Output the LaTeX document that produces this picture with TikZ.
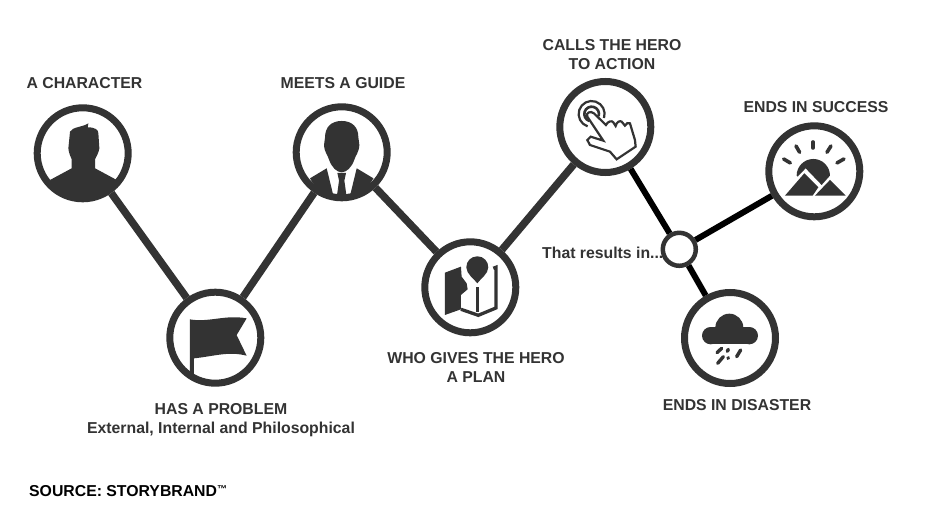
\documentclass[tikz,border=0pt]{standalone}
\usepackage{fontspec}
\setmainfont{Liberation Sans}
\usetikzlibrary{positioning}
\definecolor{inkColor}{RGB}{51,51,51}
\tikzset{stage/.style={circle, draw=inkColor, fill=white, line width=7pt, minimum size=91pt, inner sep=0pt}}
\tikzset{junction/.style={stage, line width=4.5pt, minimum size=33pt}}
\tikzset{caption/.style={align=center, inner sep=0pt, text=inkColor, font=\bfseries\fontsize{15.8}{19}\selectfont}}
\tikzset{link/.style={draw=inkColor, line width=7.5pt}}
\tikzset{outcome/.style={draw=black, line width=6pt}}
\tikzset{icon/.style={x=.3333pt, y=-.3333pt, fill=inkColor, draw=inkColor}}

\begin{document}
\begin{tikzpicture}[x=1pt, y=-1pt]
\path [fill=white, use as bounding box] (0,0) rectangle (927,511);

% Nodes
\node (Character) [stage] at (82.7,153.3) {};
\node (Problem) [stage] at (215.3,337.7) {};
\node (Guide) [stage] at (341.7,152.3) {};
\node (Plan) [stage] at (470.3,287.3) {};
\node (Action) [stage] at (605.3,127) {};
\node (Results) [junction] at (679.3,249.3) {};
\node (Success) [stage] at (814.3,171.3) {};
\node (Disaster) [stage] at (730,338) {};

\node (CharacterText) [caption, above=15pt of Character, xshift=1.8pt] {A CHARACTER};
\node (ProblemText) [caption, below=17pt of Problem, xshift=5.7pt] {HAS A PROBLEM\\External, Internal and Philosophical};
\node (GuideText) [caption, above=14pt of Guide, xshift=1.3pt] {MEETS A GUIDE};
\node (PlanText) [caption, below=16pt of Plan, xshift=5.7pt] {WHO GIVES THE HERO\\A PLAN};
\node (ActionText) [caption, above=8pt of Action, xshift=6.7pt] {CALLS THE HERO\\TO ACTION};
\node (ResultsText) [caption, left=-3pt of Results, yshift=-4pt] {That results in...};
\node (SuccessText) [caption, above=9pt of Success, xshift=1.7pt] {ENDS IN SUCCESS};
\node (DisasterText) [caption, below=12pt of Disaster, xshift=7pt] {ENDS IN DISASTER};
\node (SourceText) [caption, text=black, anchor=west] at (29,490.6) {SOURCE: STORYBRAND\raisebox{4pt}{\fontsize{10}{10}\selectfont ™}};

% Connectors
\draw [link] (Character) -- (Problem);
\draw [link] (Problem) -- (Guide);
\draw [link] (Guide) -- (Plan);
\draw [link] (Plan) -- (Action);
\draw [outcome] (Action) -- (Results);
\draw [outcome] (Results) -- (Success);
\draw [outcome] (Results) -- (Disaster);

% Icons
\begin{scope}[shift={(Character)}, icon]
\fill (-38,-65) .. controls (-30,-80) and (0,-78) .. (17,-90) -- (15,-78) .. controls (38,-78) and (47,-70) .. (47,-60) -- (50,-15) .. controls (48,0) and (40,10) .. (37,18) -- (37,45) -- (102,80) .. controls (70,147) and (-70,147) .. (-98,80) -- (-33,45) -- (-33,18) .. controls (-36,10) and (-42,0) .. (-43,-15) -- cycle;
\end{scope}

\begin{scope}[shift={(Guide)}, icon]
\fill (0,-94) .. controls (32,-94) and (50,-75) .. (50,-45) -- (53,-22) .. controls (52,0) and (42,8) .. (38,22) .. controls (30,45) and (15,60) .. (0,60) .. controls (-15,60) and (-30,45) .. (-38,22) .. controls (-42,8) and (-52,0) .. (-53,-22) -- (-50,-45) .. controls (-50,-75) and (-32,-94) .. (0,-94) -- cycle;
\fill (-95,78) -- (-45,48) -- (-25,130) .. controls (-50,125) and (-80,110) .. (-95,78) -- cycle;
\fill (95,78) -- (45,48) -- (25,130) .. controls (50,125) and (80,110) .. (95,78) -- cycle;
\fill (-13,62) -- (13,62) -- (8,85) -- (14,128) -- (-14,128) -- (-8,85) -- cycle;
\end{scope}

\begin{scope}[shift={(Problem)}, icon]
\fill (-76,-55) .. controls (-20,-45) and (30,-70) .. (94,-58) -- (64,-8) -- (94,54) .. controls (40,40) and (0,55) .. (-64,62) -- (-64,115) -- (-76,112) -- cycle;
\end{scope}

\begin{scope}[shift={(Plan)}, icon]
\fill (-76,-44) -- (-28,-62) -- (-26,-32) -- (-11,-12) -- (-8,6) -- (-28,23) -- (-28,66) -- (-76,83) -- cycle;
\fill (21,-93) .. controls (40,-93) and (54,-78) .. (54,-60) .. controls (54,-40) and (30,-25) .. (21,-12) .. controls (12,-25) and (-12,-40) .. (-12,-60) .. controls (-12,-78) and (2,-93) .. (21,-93) -- cycle;
\fill (16,-2) rectangle (27,73);
\draw [line width=3.3pt, fill=none] (-28,66) -- (24,84) -- (77,62) -- (77,-60) -- (69,-57);
\end{scope}

\begin{scope}[shift={(Action)}, icon]
\draw [line width=2.2pt, fill=none] (-54,-31) .. controls (-60,-42) and (-44,-50) .. (-34,-41) -- (2,-6) .. controls (8,-18) and (20,-20) .. (24,-14) -- (31,-3) .. controls (34,-16) and (45,-20) .. (49,-16) -- (59,-4) .. controls (62,-12) and (70,-14) .. (74,-11) -- (89,39) -- (91,59) -- (34,97) -- (14,74) -- (-46,54) -- (-54,39) -- (-44,29) -- (-6,41) -- cycle;
\draw [line width=2.2pt, fill=none] (-41,-39) ++(108:39) arc[start angle=108, end angle=378, radius=39];
\draw [line width=2.6pt, fill=none] (-41,-39) ++(108:22) arc[start angle=108, end angle=378, radius=22];
\end{scope}

\begin{scope}[shift={(Success)}, icon, line width=3.6pt, line cap=round]
\draw (-4,-88) -- (-4,-70);
\draw (-55,-76) -- (-44,-57);
\draw (-92,-37) -- (-72,-25);
\draw (50,-76) -- (38,-57);
\draw (89,-37) -- (68,-25);
\fill (47,13) arc[start angle=0, end angle=-180, radius=50] -- (-50,16) -- (-26,-9) -- (22,41) -- cycle;
\fill (-30,6) -- (12,48) -- (-5,73) -- (-88,73) -- cycle;
\fill (47,26) -- (94,73) -- (2,73) -- cycle;
\end{scope}

\begin{scope}[shift={(Disaster)}, icon, line width=3.4pt, line cap=round]
\fill (-2,-31) circle [radius=42];
\fill (-58,-7) circle [radius=26];
\fill (58,-7) circle [radius=26];
\fill (-58,-32) rectangle (58,19);
\draw (-25,31) -- (-39,44);
\draw (-20,56) -- (-37,76);
\draw (-5,34) -- (-8,40);
\draw (-5,59) -- (-6,61);
\draw (32,36) -- (20,56);
\end{scope}
\end{tikzpicture}
\end{document}
